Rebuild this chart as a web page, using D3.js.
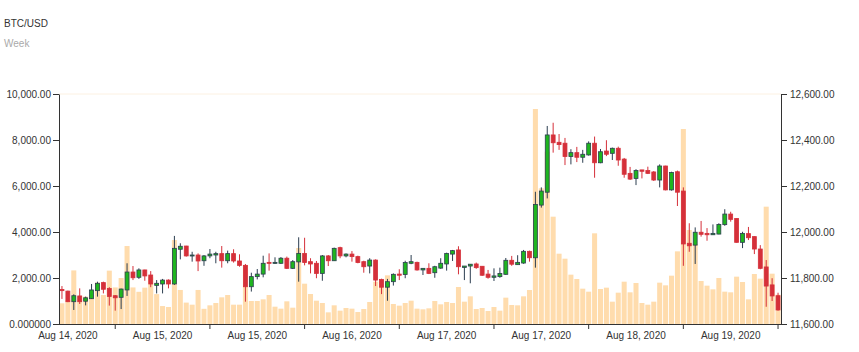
<!DOCTYPE html>
<html><head><meta charset="utf-8">
<script src="https://cdn.jsdelivr.net/npm/d3@7"></script>
<style>
body{margin:0;background:#fff}
text{font-family:"Liberation Sans",Arial,sans-serif}
</style>
</head><body>
<svg id="chart" width="859" height="352"></svg>
<script>
const title = "BTC/USD";
const subtitle = "Week";
const xLabels = ["Aug 14, 2020","Aug 15, 2020","Aug 15, 2020","Aug 16, 2020","Aug 17, 2020","Aug 17, 2020","Aug 18, 2020","Aug 19, 2020"];
const volTicks = [0,2000,4000,6000,8000,10000];
const volTickLabels = ["0.000000","2,000.00","4,000.00","6,000.00","8,000.00","10,000.00"];
const priceTicks = [11600,11800,12000,12200,12400,12600];

const openVals = [11750,11743,11697,11722,11699,11710,11745,11780,11754,11723,11716,11748,11826,11803,11835,11813,11768,11774,11791,11774,
11925,11939,11896,11900,11875,11896,11900,11906,11875,11906,11874,11855,11762,11806,11817,11868,11864,11864,11886,11842,
11870,11907,11871,11864,11820,11896,11875,11932,11896,11904,11893,11871,11852,11878,11794,11760,11784,11817,11815,11864,
11868,11835,11842,11823,11843,11861,11904,11922,11846,11852,11861,11851,11817,11803,11806,11816,11877,11858,11865,11916,
11888,12117,12173,12422,12390,12386,12328,12345,12325,12335,12386,12301,12352,12342,12364,12317,12255,12233,12270,12267,
12261,12226,12287,12183,12262,12178,11951,11943,11999,11994,11988,11991,12032,12078,12059,11955,11993,11980,11926,11848,
11770,11723];
const highVals = [11765,11745,11729,11755,11719,11774,11784,11784,11760,11726,11754,11864,11852,11842,11836,11830,11791,11796,11794,11983,
11951,11940,11914,11907,11900,11926,11914,11939,11919,11925,11903,11861,11823,11839,11897,11907,11890,11891,11893,11878,
11977,11975,11886,11874,11900,11900,11932,11936,11907,11917,11897,11875,11886,11881,11797,11796,11820,11838,11875,11900,
11871,11842,11864,11853,11886,11910,11922,11938,11852,11860,11867,11852,11835,11842,11845,11887,11896,11899,11922,11919,
12175,12194,12461,12475,12426,12409,12360,12370,12357,12394,12415,12361,12399,12367,12371,12322,12283,12273,12270,12284,
12265,12294,12288,12262,12267,12194,12038,12020,12048,12017,12033,12038,12099,12088,12059,12001,12022,11981,11943,11878,
11799,11736];
const lowVals = [11709,11695,11661,11687,11681,11709,11719,11733,11680,11658,11665,11722,11791,11796,11788,11760,11733,11733,11755,11770,
11881,11893,11871,11830,11853,11886,11864,11845,11864,11867,11849,11697,11741,11794,11803,11832,11861,11861,11839,11839,
11784,11855,11820,11799,11788,11852,11874,11886,11890,11871,11864,11823,11820,11765,11730,11701,11767,11791,11799,11860,
11832,11813,11817,11801,11840,11832,11874,11816,11791,11777,11840,11809,11797,11787,11801,11814,11853,11858,11862,11871,
11845,12106,12146,12345,12357,12291,12294,12304,12301,12332,12236,12299,12330,12313,12288,12236,12226,12204,12233,12252,
12222,12194,12181,12180,12113,11853,11914,11861,11980,11962,11987,11990,12027,12045,11954,11930,11965,11904,11838,11675,
11700,11658];
const closeVals = [11745,11697,11723,11697,11714,11748,11777,11751,11720,11714,11752,11826,11801,11835,11809,11774,11777,11791,11774,11929,
11938,11896,11900,11874,11896,11904,11906,11875,11906,11874,11855,11762,11806,11817,11864,11864,11868,11886,11842,11871,
11907,11867,11861,11820,11896,11875,11929,11896,11904,11893,11867,11849,11878,11791,11760,11784,11816,11812,11867,11871,
11835,11842,11820,11849,11864,11907,11919,11849,11852,11860,11845,11812,11803,11809,11820,11877,11860,11868,11916,11888,
12120,12178,12422,12388,12380,12328,12345,12325,12338,12386,12301,12349,12338,12364,12313,12251,12230,12267,12264,12255,
12226,12287,12183,12259,12173,11948,11940,11999,11990,11988,11994,12033,12078,12055,11955,11994,11975,11926,11842,11765,
11722,11661];
const volumeVals = [900,1040,2330,1190,1190,1260,1800,1260,2320,1590,2000,3390,1590,1400,1580,2030,1300,780,740,3650,
1480,930,840,1480,660,812,913,1160,1260,840,840,2565,1000,1000,1073,1260,753,667,986,710,
3304,1753,1304,1014,913,507,812,580,696,667,522,652,957,1840,1913,2116,870,797,913,1014,
667,638,681,1000,855,957,913,1609,971,1203,652,696,565,739,580,1145,826,812,1203,1478,
9348,5900,7493,4666,3057,2840,2145,1957,1536,1405,3943,1522,1580,971,1362,1840,1377,1783,913,840,
971,1797,1681,2101,3159,8478,4087,3478,1870,1667,1507,2000,1406,1377,2058,1826,1073,2174,1971,5101,
2188,1275];
const tickIdx = [9,25,41,57,73,89,105,121];
const labelShift = 8;

const svg = d3.select("#chart");
const L = 59, R = 781, T = 94, B = 324;
const idx = d3.range(openVals.length);
const x = d3.scaleBand().domain(idx).range([L, R]).paddingInner(0.15).paddingOuter(0.075);
const yVol = d3.scaleLinear().domain([0, 10000]).range([B, T]);
const yPrice = d3.scaleLinear().domain([11600, 12600]).range([B, T]);
const cx = i => x(i) + x.bandwidth() / 2;

svg.append("text").attr("x", 4).attr("y", 26.5).attr("font-size", 10).attr("fill", "#333").text(title);
svg.append("text").attr("x", 4).attr("y", 46.5).attr("font-size", 10).attr("fill", "#aaa").text(subtitle);

svg.append("line").attr("x1", L).attr("x2", R).attr("y1", yVol(10000)).attr("y2", yVol(10000))
  .attr("stroke", "#fcf1e2").attr("stroke-width", 1);

svg.append("g").selectAll("rect").data(idx).join("rect")
  .attr("x", i => x(i)).attr("width", x.bandwidth())
  .attr("y", i => yVol(volumeVals[i])).attr("height", i => B - yVol(volumeVals[i]))
  .attr("fill", "#ffdcad");

const up = "#1fb51f", upStroke = "#2c3e50", down = "#d5303a";
const cw = x.bandwidth() * 0.78;
const cg = svg.append("g").selectAll("g").data(idx).join("g");
cg.append("line")
  .attr("x1", i => cx(i)).attr("x2", i => cx(i))
  .attr("y1", i => yPrice(highVals[i])).attr("y2", i => yPrice(lowVals[i]))
  .attr("stroke", i => closeVals[i] >= openVals[i] ? upStroke : down).attr("stroke-width", 1);
cg.append("rect")
  .attr("x", i => cx(i) - cw / 2).attr("width", cw)
  .attr("y", i => yPrice(Math.max(openVals[i], closeVals[i])))
  .attr("height", i => Math.max(1, Math.abs(yPrice(openVals[i]) - yPrice(closeVals[i]))))
  .attr("fill", i => closeVals[i] >= openVals[i] ? up : down)
  .attr("stroke", i => closeVals[i] >= openVals[i] ? upStroke : down).attr("stroke-width", 0.8);

function style(g) {
  g.selectAll("path.domain").attr("stroke", "#333");
  g.selectAll(".tick line").attr("stroke", "#333");
  g.selectAll("text").attr("fill", "#333").attr("font-size", 10).attr("font-family", "Liberation Sans, Arial, sans-serif");
}
const gl = svg.append("g").attr("transform", `translate(${L},0)`)
  .call(d3.axisLeft(yVol).tickValues(volTicks).tickFormat((d, k) => volTickLabels[k]).tickSize(6).tickSizeOuter(0).tickPadding(2));
style(gl);
const gr = svg.append("g").attr("transform", `translate(${R},0)`)
  .call(d3.axisRight(yPrice).tickValues(priceTicks).tickFormat(d3.format(",.2f")).tickSize(6).tickSizeOuter(0).tickPadding(3));
style(gr);
const gb = svg.append("g").attr("transform", `translate(0,${B})`)
  .call(d3.axisBottom(x).tickValues(tickIdx).tickFormat((d, k) => xLabels[k]).tickSize(5).tickSizeOuter(0).tickPadding(3));
gb.select("path.domain").attr("d", `M${L},0.5H${R}`);
gb.selectAll(".tick text").attr("x", -labelShift * x.step());
style(gb);
</script>
</body></html>
